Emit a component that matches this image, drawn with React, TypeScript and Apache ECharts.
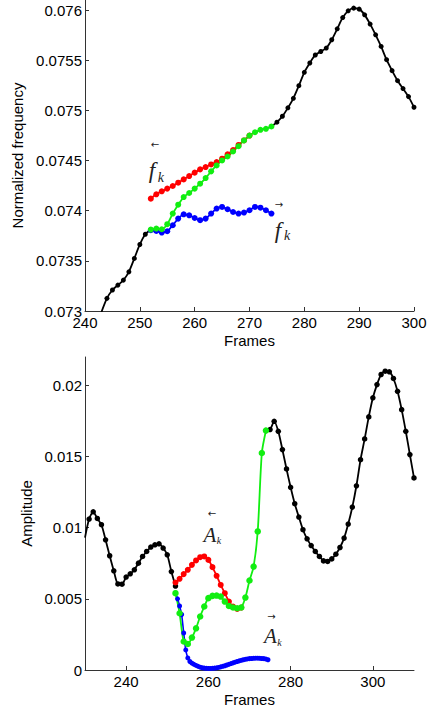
import { useEffect, useRef } from "react";
import * as echarts from "echarts";

// ---------- Top chart: normalized frequency ----------
const freqBlackLeftFrames = [243, 244, 245, 246, 247, 248, 249, 250, 251, 252];
const freqBlackLeft = [0.07299, 0.073126, 0.073209, 0.073258, 0.073308, 0.07339, 0.073524, 0.073663, 0.073765, 0.07381];

const freqBlackRightFrames = [274, 275, 276, 277, 278, 279, 280, 281, 282, 283, 284, 285, 286, 287, 288, 289, 290, 291, 292, 293, 294, 295, 296, 297, 298, 299, 300];
const freqBlackRight = [0.074839, 0.074882, 0.074941, 0.075025, 0.07512, 0.075246, 0.075379, 0.075472, 0.075552, 0.075587, 0.075621, 0.075704, 0.075813, 0.075925, 0.075992, 0.076019, 0.076009, 0.075952, 0.07586, 0.075753, 0.075637, 0.075505, 0.075396, 0.075296, 0.075217, 0.075137, 0.075031];

const freqRedFrames = [252, 253, 254, 255, 256, 257, 258, 259, 260, 261, 262, 263, 264, 265, 266, 267, 268, 269, 270];
const freqRed = [0.07412, 0.074163, 0.074193, 0.07422, 0.074246, 0.074279, 0.074312, 0.074345, 0.074379, 0.074412, 0.074435, 0.074461, 0.074484, 0.074518, 0.074561, 0.074605, 0.074655, 0.0747, 0.074749];

const freqColFrames = [252, 253, 254, 255, 256, 257, 258, 259, 260, 261, 262, 263, 264, 265, 266, 267, 268, 269, 270, 271, 272, 273, 274];
const freqGreen = [0.073812, 0.073822, 0.073815, 0.073865, 0.073971, 0.07406, 0.074136, 0.074176, 0.07422, 0.074269, 0.074325, 0.074392, 0.074451, 0.074501, 0.07454, 0.07459, 0.074643, 0.0747, 0.074749, 0.074782, 0.074806, 0.074816, 0.074839];
const freqBlue = [0.073805, 0.073798, 0.073782, 0.073795, 0.073855, 0.073921, 0.073964, 0.073954, 0.073927, 0.073905, 0.073921, 0.073971, 0.074021, 0.074037, 0.074014, 0.073987, 0.073971, 0.073981, 0.074004, 0.074037, 0.07403, 0.074004, 0.073971];

const freqXTicks = [240, 250, 260, 270, 280, 290, 300];
const freqYTicks = [0.073, 0.0735, 0.074, 0.0745, 0.075, 0.0755, 0.076];

// ---------- Bottom chart: amplitude ----------
const ampBlackLeftFrames = [230, 231, 232, 233, 234, 235, 236, 237, 238, 239, 240, 241, 242, 243, 244, 245, 246, 247, 248, 249, 250, 251, 252];
const ampBlackLeft = [0.0093, 0.01061, 0.01112, 0.01065, 0.01021, 0.00915, 0.00803, 0.00697, 0.00605, 0.00603, 0.00653, 0.00676, 0.00704, 0.00751, 0.00798, 0.00833, 0.00864, 0.0088, 0.00887, 0.00857, 0.0081, 0.00692, 0.0059];

const ampBlackRightFrames = [274, 275, 276, 277, 278, 279, 280, 281, 282, 283, 284, 285, 286, 287, 288, 289, 290, 291, 292, 293, 294, 295, 296, 297, 298, 299, 300, 301, 302, 303, 304, 305, 306, 307, 308, 309, 310];
const ampBlackRight = [0.01683, 0.0169, 0.01748, 0.01678, 0.01549, 0.01413, 0.01284, 0.01169, 0.01075, 0.00986, 0.00922, 0.00875, 0.00833, 0.00798, 0.00767, 0.00763, 0.00781, 0.00814, 0.00861, 0.00927, 0.01026, 0.01145, 0.01295, 0.01478, 0.01624, 0.01779, 0.01913, 0.02006, 0.02077, 0.021, 0.02096, 0.02049, 0.01959, 0.0183, 0.01678, 0.01514, 0.0135];

const ampRedFrames = [252, 253, 254, 255, 256, 257, 258, 259, 260, 261, 262, 263, 264, 265, 266, 267, 268];
const ampRed = [0.00615, 0.00641, 0.00674, 0.00704, 0.00739, 0.0077, 0.00793, 0.00798, 0.00774, 0.00723, 0.00662, 0.00598, 0.0054, 0.00481, 0.00446, 0.00429, 0.00439];

const ampGreenFrames = [252, 253, 254, 255, 256, 257, 258, 259, 260, 261, 262, 263, 264, 265, 266, 267, 268, 269, 270, 271, 272, 273, 274];
const ampGreen = [0.0054, 0.00399, 0.002, 0.00183, 0.00228, 0.00293, 0.00376, 0.00446, 0.00505, 0.00521, 0.00523, 0.00516, 0.00481, 0.0045, 0.00439, 0.00434, 0.00439, 0.00509, 0.00629, 0.00727, 0.00974, 0.01525, 0.01683];

const ampBlueFrames = [252, 252.5, 253, 253.5, 254, 254.5, 255, 255.5, 256, 256.5, 257, 257.5, 258, 258.5, 259, 259.5, 260, 260.5, 261, 261.5, 262, 262.5, 263, 263.5, 264, 264.5, 265, 265.5, 266, 266.5, 267, 267.5, 268, 268.5, 269, 269.5, 270, 270.5, 271, 271.5, 272, 272.5, 273, 273.5, 274, 274.5];
const ampBlue = [0.0054, 0.005, 0.0045, 0.0039, 0.0026, 0.00141, 0.00085, 0.0006, 0.00048, 0.0004, 0.00032, 0.00026, 0.0002, 0.00016, 0.00013, 0.00012, 0.00011, 0.00011, 0.00012, 0.00013, 0.00015, 0.00018, 0.00022, 0.00026, 0.0003, 0.00035, 0.0004, 0.00045, 0.0005, 0.00055, 0.0006, 0.00064, 0.00068, 0.00072, 0.00075, 0.00078, 0.0008, 0.00081, 0.00082, 0.00083, 0.00083, 0.00082, 0.00081, 0.0008, 0.00077, 0.00072];

const ampXTicks = [240, 260, 280, 300];
const ampYTicks = [0, 0.005, 0.01, 0.015, 0.02];

const SANS = "Liberation Sans, Arial, Helvetica, sans-serif";
const SERIF = "Liberation Serif, Times New Roman, serif";
const AXIS_COLOR = "#333";
const BLACK = "#000000";
const RED = "#ff0000";
const GREEN = "#11ee11";
const BLUE = "#0000ff";

const zip = (xs: number[], ys: number[]) => xs.map((x, i) => [x, ys[i]]);

function lineSeries(
  name: string,
  grid: number,
  data: any[],
  color: string,
  size: number,
  width: number
) {
  return {
    name,
    type: "line",
    xAxisIndex: grid,
    yAxisIndex: grid,
    data,
    smooth: 0.25,
    symbol: "circle",
    symbolSize: size,
    showSymbol: true,
    clip: true,
    lineStyle: { color, width },
    itemStyle: { color, borderWidth: 0 },
    emphasis: { disabled: true },
  };
}

function xAxisCfg(grid: number, min: number, max: number, ticks: number[]) {
  return {
    type: "value",
    gridIndex: grid,
    min,
    max,
    name: "Frames",
    nameLocation: "middle",
    nameGap: 22,
    nameTextStyle: { fontFamily: SANS, fontSize: 15, color: "#000" },
    axisLine: { show: true, onZero: false, lineStyle: { color: AXIS_COLOR, width: 1 } },
    axisTick: { show: true, inside: true, length: 4, customValues: ticks, lineStyle: { color: AXIS_COLOR } },
    axisLabel: { customValues: ticks, margin: 5, lineHeight: 12, fontFamily: SANS, fontSize: 15, color: "#000" },
    splitLine: { show: false },
  };
}

function yAxisCfg(grid: number, min: number, max: number, ticks: number[], name: string, gap: number) {
  return {
    type: "value",
    gridIndex: grid,
    min,
    max,
    name,
    nameLocation: "middle",
    nameGap: gap,
    nameTextStyle: { fontFamily: SANS, fontSize: 15, color: "#000" },
    axisLine: { show: true, onZero: false, lineStyle: { color: AXIS_COLOR, width: 1 } },
    axisTick: { show: true, inside: true, length: 4, customValues: ticks, lineStyle: { color: AXIS_COLOR } },
    axisLabel: { customValues: ticks, margin: 3, lineHeight: 12, fontFamily: SANS, fontSize: 15, color: "#000" },
    splitLine: { show: false },
  };
}

export default function App() {
  const ref = useRef<HTMLDivElement>(null);

  useEffect(() => {
    document.body.style.margin = "0";
    if (!ref.current) return;
    const chart = echarts.init(ref.current, null, { renderer: "svg" });

    const ampLeftData = zip(ampBlackLeftFrames, ampBlackLeft).map((p, i) =>
      i === 0 ? { value: p, symbol: "none" } : p
    );

    chart.setOption({
      animation: false,
      backgroundColor: "#ffffff",
      grid: [
        { left: 85, top: -1, width: 329, height: 312, containLabel: false },
        { left: 85, top: 357, width: 329, height: 313, containLabel: false },
      ],
      xAxis: [xAxisCfg(0, 240, 300, freqXTicks), xAxisCfg(1, 230, 310, ampXTicks)],
      yAxis: [
        yAxisCfg(0, 0.073, 0.0761, freqYTicks, "Normalized frequency", 57),
        yAxisCfg(1, 0, 0.022, ampYTicks, "Amplitude", 50),
      ],
      series: [
        lineSeries("freq-black-left", 0, zip(freqBlackLeftFrames, freqBlackLeft), BLACK, 5, 1.8),
        lineSeries("freq-black-right", 0, zip(freqBlackRightFrames, freqBlackRight), BLACK, 5, 1.8),
        lineSeries("freq-red", 0, zip(freqRedFrames, freqRed), RED, 6, 1.8),
        lineSeries("freq-blue", 0, zip(freqColFrames, freqBlue), BLUE, 6, 1.8),
        lineSeries("freq-green", 0, zip(freqColFrames, freqGreen), GREEN, 6, 1.8),
        lineSeries("amp-black-left", 1, ampLeftData, BLACK, 5.5, 1.8),
        lineSeries("amp-black-right", 1, zip(ampBlackRightFrames, ampBlackRight), BLACK, 5.5, 1.8),
        lineSeries("amp-red", 1, zip(ampRedFrames, ampRed), RED, 6, 1.8),
        lineSeries("amp-blue", 1, zip(ampBlueFrames, ampBlue), BLUE, 5, 1.6),
        lineSeries("amp-green", 1, zip(ampGreenFrames, ampGreen), GREEN, 6.5, 1.8),
      ],
    });

    const px = (gridIndex: number, x: number, y: number) =>
      chart.convertToPixel({ gridIndex } as any, [x, y]) as number[];

    const label = (
      p: number[],
      letter: string,
      arrow: string,
      size: number,
      subSize: number,
      arrowDx: number,
      arrowDy: number,
      subDx: number,
      subDy: number
    ) => ({
      type: "group",
      x: p[0],
      y: p[1],
      silent: true,
      children: [
        {
          type: "text",
          x: arrowDx,
          y: arrowDy,
          style: { text: arrow, fontSize: 10, fontFamily: "DejaVu Sans", fill: "#222", align: "center", verticalAlign: "middle" },
        },
        {
          type: "text",
          x: 0,
          y: 0,
          style: { text: letter, fontSize: size, fontStyle: "italic", fontFamily: SERIF, fill: "#222", align: "center", verticalAlign: "middle" },
        },
        {
          type: "text",
          x: subDx,
          y: subDy,
          style: { text: "k", fontSize: subSize, fontStyle: "italic", fontFamily: SERIF, fill: "#222", align: "center", verticalAlign: "middle" },
        },
      ],
    });

    chart.setOption({
      graphic: [
        label(px(0, 252.2, 0.0744), "f", "←", 23, 14, 3, -26, 9, 7),
        label(px(0, 275.2, 0.073805), "f", "→", 23, 14, 1, -26, 9, 5),
        label(px(1, 260.4, 0.0095), "A", "←", 21, 10, 2, -21, 9, 6),
        label(px(1, 275.1, 0.0024), "A", "→", 21, 10, 1, -19, 9, 7),
      ],
    });

    return () => chart.dispose();
  }, []);

  return <div ref={ref} style={{ width: 434, height: 709 }} />;
}
